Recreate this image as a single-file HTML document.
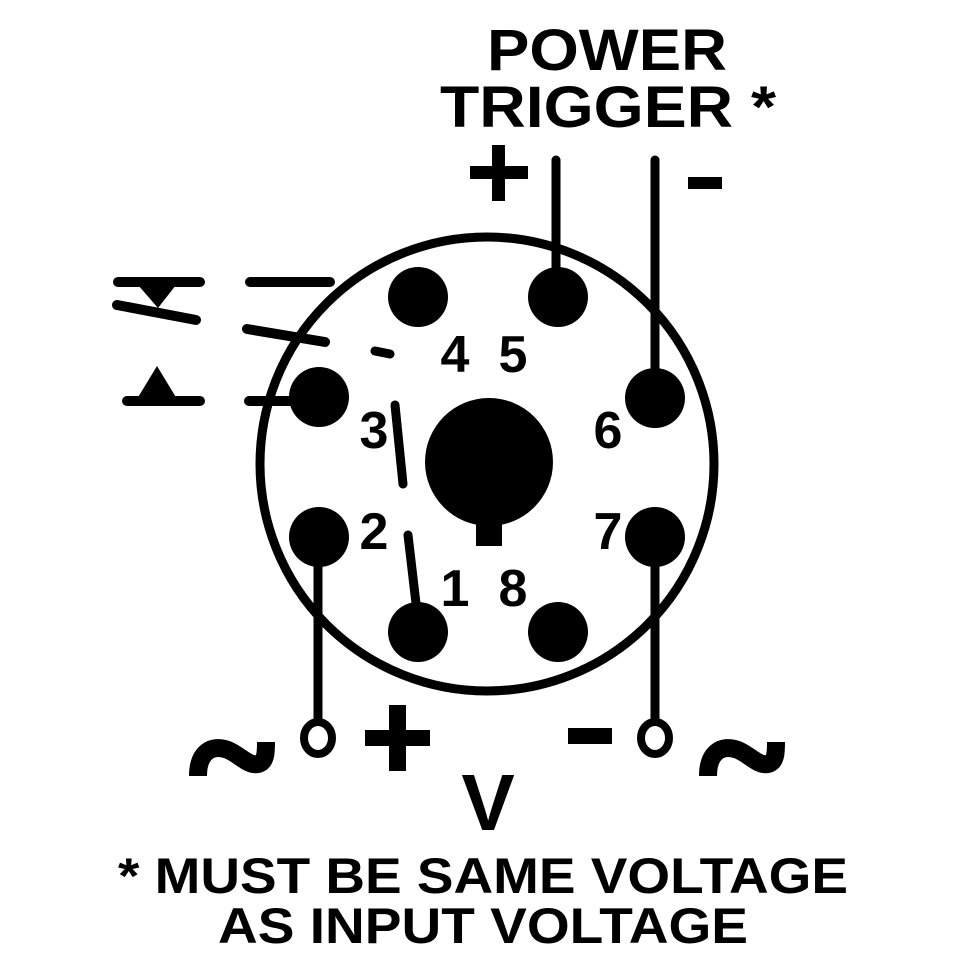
<!DOCTYPE html>
<html><head><style>body{margin:0;background:#fff}svg{display:block}text{font-family:"Liberation Sans",Arial,sans-serif;font-weight:bold;fill:#000}</style></head>
<body>
<svg width="960" height="960" viewBox="0 0 960 960">
<g stroke="#000" stroke-linecap="round" fill="none">
<circle cx="487" cy="464" r="227" stroke-width="9"/>
<line x1="556" y1="160" x2="556" y2="295" stroke-width="9"/>
<line x1="655" y1="160" x2="655" y2="398" stroke-width="9"/>
<line x1="318" y1="537" x2="318" y2="722" stroke-width="9" stroke-linecap="butt"/>
<line x1="655" y1="537" x2="655" y2="722" stroke-width="9" stroke-linecap="butt"/>
<ellipse cx="318" cy="738" rx="14" ry="16" stroke-width="8"/>
<ellipse cx="655" cy="738" rx="14" ry="16" stroke-width="8"/>
<line x1="395" y1="405" x2="403" y2="484" stroke-width="9"/>
<line x1="408" y1="535" x2="417" y2="612" stroke-width="9"/>
<line x1="375" y1="351" x2="390" y2="354" stroke-width="9"/>
<line x1="118" y1="282" x2="200" y2="282" stroke-width="10"/>
<line x1="117" y1="305" x2="196" y2="320" stroke-width="10"/>
<line x1="250" y1="282" x2="330" y2="282" stroke-width="10"/>
<line x1="247" y1="329" x2="325" y2="342" stroke-width="10"/>
<line x1="127" y1="401" x2="200" y2="401" stroke-width="10"/>
<line x1="249" y1="401" x2="319" y2="401" stroke-width="10"/>
<path d="M198,776 C198,752 212,744 228,750 C240,755 248,766 258,764 C266,762 266,752 266,742" stroke-width="18" stroke-linecap="butt"/>
<path d="M708,776 C708,752 722,744 738,750 C750,755 758,766 768,764 C776,762 776,752 776,742" stroke-width="18" stroke-linecap="butt"/>
</g>
<g fill="#000">
<polygon points="138,285 176,285 158,308"/>
<polygon points="137,399 177,399 157,366"/>
<circle cx="418" cy="297" r="30"/><circle cx="558" cy="297" r="30"/>
<circle cx="655" cy="398" r="30"/><circle cx="655" cy="537" r="30"/>
<circle cx="558" cy="632" r="30"/><circle cx="418" cy="632" r="30"/>
<circle cx="319" cy="537" r="30"/><circle cx="319" cy="397" r="30"/>
<circle cx="489" cy="462" r="64"/>
<rect x="476" y="510" width="26" height="36"/>
<!-- top plus / minus -->
<rect x="470" y="166" width="58" height="13"/><rect x="492" y="145" width="13" height="56"/>
<rect x="688" y="177" width="34" height="12"/>
<!-- bottom plus / minus -->
<rect x="365" y="730" width="65" height="16"/><rect x="389" y="705" width="17" height="66"/>
<rect x="568" y="728" width="44" height="16"/>
</g>
<g font-size="52" text-anchor="middle">
<text x="455" y="372">4</text><text x="513" y="372">5</text>
<text x="374" y="448">3</text><text x="608" y="448">6</text>
<text x="374" y="549">2</text><text x="608" y="549">7</text>
<text x="455" y="606">1</text><text x="513" y="606">8</text>
</g>
<text x="487" y="70" font-size="58" textLength="240" lengthAdjust="spacingAndGlyphs">POWER</text>
<text x="440" y="127" font-size="58" textLength="336" lengthAdjust="spacingAndGlyphs">TRIGGER *</text>
<text x="488" y="830" font-size="80" text-anchor="middle">V</text>
<text x="118" y="893" font-size="50" textLength="730" lengthAdjust="spacingAndGlyphs">* MUST BE SAME VOLTAGE</text>
<text x="218" y="943" font-size="50" textLength="530" lengthAdjust="spacingAndGlyphs">AS INPUT VOLTAGE</text>
</svg>
</body></html>
